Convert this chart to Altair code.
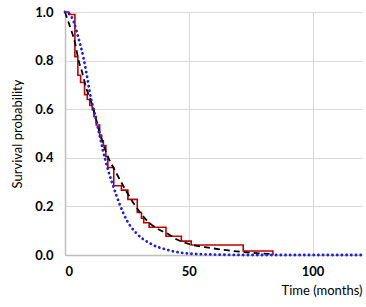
import altair as alt
import pandas as pd

# Kaplan-Meier step curve (time, survival after step)
km_t = [0, 1.5, 4.0, 5.2, 6.3, 7.9, 9.0, 10.0, 11.0, 11.7, 12.6, 14.0, 14.8, 15.5,
        16.5, 17.3, 19.7, 22.8, 25.4, 29.2, 30.9, 31.8, 34.0, 40.8, 47.0, 51.0, 72.0, 84.0]
km_s = [1.0, 0.99, 0.816, 0.74, 0.71, 0.66, 0.64, 0.615, 0.598, 0.57, 0.535, 0.494, 0.47, 0.45,
        0.405, 0.36, 0.285, 0.267, 0.229, 0.175, 0.151, 0.133, 0.114, 0.077, 0.057, 0.041, 0.0165, 0.0]

# Fitted model (black dashed)
fit_t = [0, 1, 2.7, 4, 5.5, 6.7, 8.5, 10.8, 12.5, 14.1, 16.8, 20.8, 24.9, 29.6, 34.3, 38.3,
         41, 45, 51.7, 58, 65.2, 72, 78.6, 84]
fit_s = [1.0, 0.97, 0.92, 0.875, 0.80, 0.76, 0.69, 0.624, 0.56, 0.50, 0.418, 0.336, 0.26, 0.185,
         0.13, 0.103, 0.09, 0.065, 0.041, 0.03, 0.02, 0.012, 0.007, 0.004]

# Second model (blue dotted)
exp_t = [0, 1.5, 3.5, 5.5, 7.5, 8.9, 10, 12.6, 14.4, 15.3, 17.4, 19.5, 22.2, 24.9, 28.9,
         34.3, 41.7, 50, 60, 75, 120]
exp_s = [1.0, 0.995, 0.96, 0.89, 0.81, 0.735, 0.67, 0.556, 0.473, 0.432, 0.35, 0.283, 0.206,
         0.144, 0.089, 0.048, 0.02, 0.006, 0.002, 0.0, 0.0]

x_ticks = [0, 50, 100]
y_ticks = [0.0, 0.2, 0.4, 0.6, 0.8, 1.0]

km = pd.DataFrame({"t": km_t, "s": km_s})
fit = pd.DataFrame({"t": fit_t, "s": fit_s})
ex = pd.DataFrame({"t": exp_t, "s": exp_s})

FONT = "Lato"

x_enc = alt.X("t:Q", scale=alt.Scale(domain=[0, 120], nice=False, zero=True),
              axis=alt.Axis(values=x_ticks, title="Time (months)", titleAnchor="end",
                            titleAlign="right", titlePadding=6, labelPadding=10,
                            labelFontWeight="bold", format="d"))
y_enc = alt.Y("s:Q", scale=alt.Scale(domain=[0, 1], nice=False),
              axis=alt.Axis(values=y_ticks, title="Survival probability", format=".1f",
                            labelPadding=12, titlePadding=10, labelFontWeight="bold"))

red = alt.Chart(km).mark_line(interpolate="step-after", color="#c00000", strokeWidth=1.6).encode(
    x=x_enc, y=y_enc)
black = alt.Chart(fit).mark_line(interpolate="monotone", color="#000000", strokeWidth=1.8,
                                 strokeDash=[6, 4]).encode(x="t:Q", y="s:Q")
blue = alt.Chart(ex).mark_line(interpolate="monotone", color="#1f1fe0", strokeWidth=2.8,
                               strokeDash=[0.1, 4.6], strokeCap="round").encode(x="t:Q", y="s:Q")

chart = alt.layer(red, black, blue).properties(
    width=297, height=243,
    autosize=alt.AutoSizeParams(type="none"),
    padding={"left": 65, "top": 12, "right": 4, "bottom": 52},
    background="white",
).configure_view(stroke=None).configure_axis(
    domainColor="#bfbfbf", domainWidth=1.5, gridColor="#d9d9d9", gridWidth=1,
    ticks=False, labelFont=FONT, titleFont=FONT, labelFontSize=13, titleFontSize=13,
    labelColor="#000000", titleColor="#000000", titleFontWeight="normal",
)

chart.save("out.html", embed_options={"renderer": "svg", "actions": False})
